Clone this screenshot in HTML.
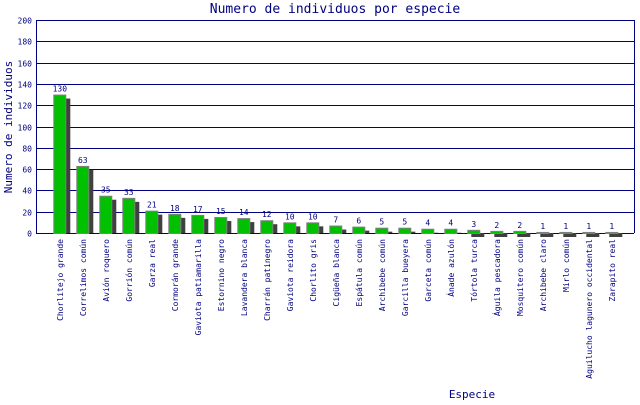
<!DOCTYPE html>
<html><head><meta charset="utf-8"><style>html,body{margin:0;padding:0;background:#fff}</style></head>
<body>
<svg width="640" height="400" xmlns="http://www.w3.org/2000/svg" font-family="'DejaVu Sans Mono','Liberation Mono',monospace" fill="#000080">
<rect width="640" height="400" fill="#fff"/>
<text x="335" y="13" font-size="13" text-anchor="middle">Numero de individuos por especie</text>
<text transform="translate(12,127) rotate(-90)" font-size="11" text-anchor="middle">Numero de individuos</text>
<text x="472" y="398" font-size="11" text-anchor="middle">Especie</text>
<g id="grid" stroke="#000080" stroke-width="1"></g>
<g id="bars"></g>
<g id="lbl" font-size="8"></g>
</svg>
<script>
var ns="http://www.w3.org/2000/svg";
function el(p,t,a,tx){var e=document.createElementNS(ns,t);for(var k in a)e.setAttribute(k,a[k]);if(tx!=null)e.textContent=tx;document.getElementById(p).appendChild(e);return e;}
var y0=233,sc=213/200;
for(var v=0;v<=200;v+=20){var y=Math.round(y0-v*sc)+0.5;el('grid','line',{x1:36,x2:634,y1:y,y2:y});el('lbl','text',{x:32,y:y+3,'text-anchor':'end'},v);}
el('grid','line',{x1:36.5,x2:36.5,y1:20,y2:233});
el('grid','line',{x1:634.5,x2:634.5,y1:20,y2:233});
var d=[["Chorlitejo grande",130],["Correlimos común",63],["Avión roquero",35],["Gorrión común",33],["Garza real",21],["Cormorán grande",18],["Gaviota patiamarilla",17],["Estornino negro",15],["Lavandera blanca",14],["Charrán patinegro",12],["Gaviota reidora",10],["Chorlito gris",10],["Cigüeña blanca",7],["Espátula común",6],["Archibebe común",5],["Garcilla bueyera",5],["Garceta común",4],["Ánade azulón",4],["Tórtola turca",3],["Águila pescadora",2],["Mosquitero común",2],["Archibebe claro",1],["Mirlo común",1],["Aguilucho lagunero occidental",1],["Zarapito real",1]];
d.forEach(function(r,i){var x=53.3+i*23,h=Math.max(1,r[1]*sc),top=y0-h;
var sy,sh;
if(h<4){sy=233;sh=4;}else{sy=top+4;sh=y0-sy;}
el('bars','rect',{x:x+4,y:sy,width:13,height:sh,fill:'#404040'});
el('bars','rect',{x:x+0.5,y:top+0.5,width:12,height:h,fill:'#00c000',stroke:'#808080','stroke-width':1});
el('lbl','text',{x:x+6.5,y:top-3,'text-anchor':'middle'},r[1]);
el('lbl','text',{transform:'translate('+(x+9.5)+',239) rotate(-90)','text-anchor':'end'},r[0]);
});
el('grid','line',{x1:36,x2:634,y1:233.5,y2:233.5});
</script>
</body></html>
